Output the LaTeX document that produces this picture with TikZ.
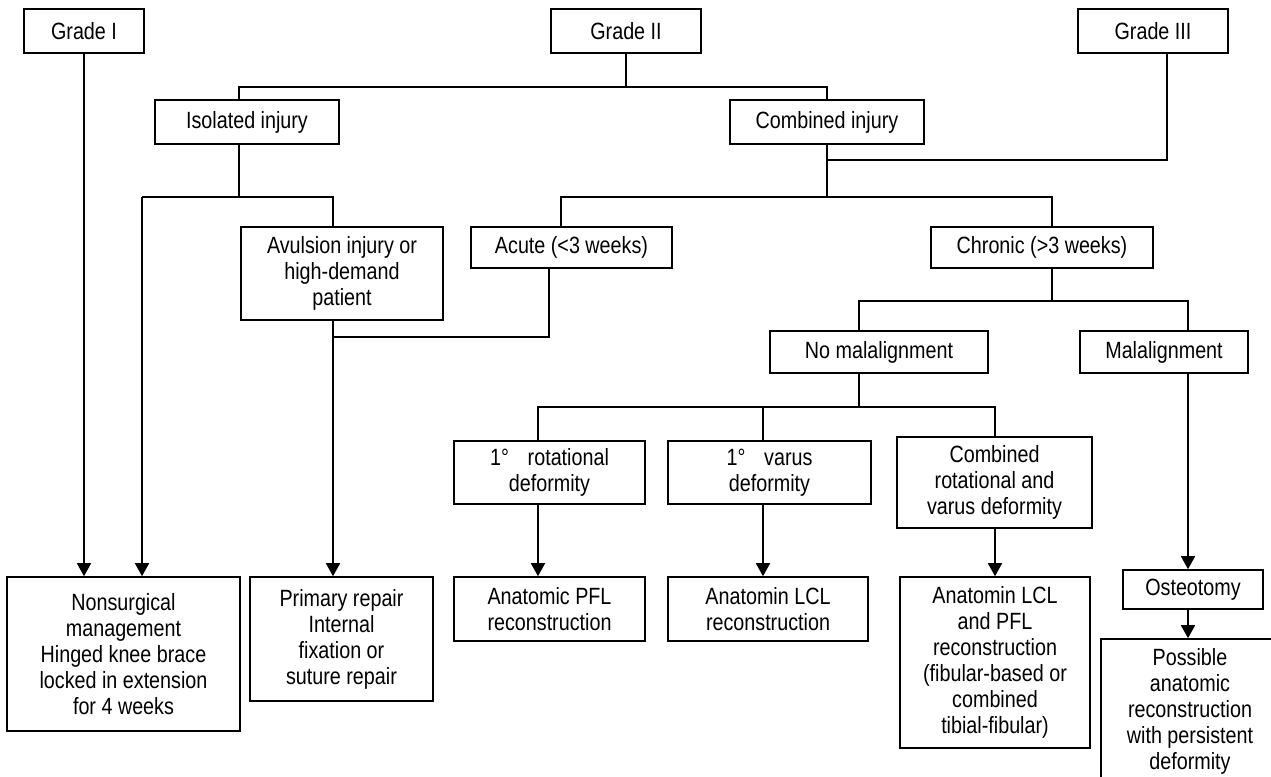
\documentclass[tikz,border=0pt]{standalone}
\usepackage{fontspec}
\setmainfont{Liberation Sans}[FakeStretch=0.84]
\usetikzlibrary{arrows.meta}
\begin{document}
\begin{tikzpicture}[x=1pt,y=-1pt,
  bx/.style={draw,line width=1.6pt,inner sep=0pt,align=center,fill=white,
    font=\fontsize{23.5}{26}\selectfont},
  ln/.style={line width=1.6pt},
  arr/.style={ln,-{Triangle[width=14pt,length=13pt]}}]
\useasboundingbox (0,0) rectangle (1271,776);
\clip (0,0) rectangle (1271,776);
% top row
\node[bx,minimum width=120pt,minimum height=44pt] (g1) at (84,31) {Grade I};
\node[bx,minimum width=150pt,minimum height=44pt] (g2) at (626,31) {Grade II};
\node[bx,minimum width=150pt,minimum height=44pt] (g3) at (1153,31) {Grade III};
% second row
\node[bx,minimum width=184pt,minimum height=44pt] (iso) at (247,122) {Isolated injury};
\node[bx,minimum width=194pt,minimum height=44pt] (comb) at (827,122) {Combined injury};
% third row
\node[bx,minimum width=202pt,minimum height=93pt] (avul) at (342,273.5) {Avulsion injury or\\high-demand\\patient};
\node[bx,minimum width=201pt,minimum height=41pt] (acute) at (571.5,247.5) {Acute (<3 weeks)};
\node[bx,minimum width=222pt,minimum height=41pt] (chron) at (1042,247.5) {Chronic (>3 weeks)};
% fourth row
\node[bx,minimum width=218pt,minimum height=42pt] (nomal) at (879,352) {No malalignment};
\node[bx,minimum width=168pt,minimum height=42pt] (mal) at (1164,352) {Malalignment};
% fifth row
\node[bx,minimum width=191pt,minimum height=63pt] (rot) at (549.5,472.5) {1°\hspace{0.8em}rotational\\deformity};
\node[bx,minimum width=203pt,minimum height=63pt] (var) at (769.5,472.5) {1°\hspace{0.8em}varus\\deformity};
\node[bx,minimum width=195pt,minimum height=91pt] (crv) at (994.5,482.5) {Combined\\rotational and\\varus deformity};
% results
\node[bx,minimum width=233pt,minimum height=154pt] (non) at (123.5,654) {Nonsurgical\\management\\Hinged knee brace\\locked in extension\\for 4 weeks};
\node[bx,minimum width=183pt,minimum height=124pt] (prim) at (341.5,639) {Primary repair\\Internal\\fixation or\\suture repair};
\node[bx,minimum width=191pt,minimum height=64pt] (pfl) at (549.5,609) {Anatomic PFL\\reconstruction};
\node[bx,minimum width=200pt,minimum height=64pt] (lcl) at (768,609) {Anatomin LCL\\reconstruction};
\node[bx,minimum width=190pt,minimum height=171pt] (lclpfl) at (995,662.5) {Anatomin LCL\\and PFL\\reconstruction\\(fibular-based or\\combined\\tibial-fibular)};
\node[bx,minimum width=140pt,minimum height=39pt] (ost) at (1193,589.5) {Osteotomy};
\node[bx,minimum width=178pt,minimum height=145pt] (poss) at (1190,711.5) {Possible\\anatomic\\reconstruction\\with persistent\\deformity};
% junction coordinates
\coordinate (a1) at (239,87);
\coordinate (a2) at (827,87);
\coordinate (b0) at (239,197);
\coordinate (b1) at (142,197);
\coordinate (b2) at (333,197);
\coordinate (c1) at (1167,160);
\coordinate (d1) at (561,197);
\coordinate (d2) at (1052,197);
\coordinate (e1) at (549,337);
\coordinate (f1) at (859,301);
\coordinate (f2) at (1188,301);
\coordinate (h1) at (538,407);
\coordinate (h2) at (763,407);
\coordinate (h3) at (995,407);
% connectors
\draw[arr] (g1.south) -- (g1.south |- non.north);
\draw[ln] (g2.south) -- (g2.south |- a1);
\draw[ln] (iso.north -| a1) -- (a1) -- (a2) -- (comb.north -| a2);
\draw[ln] (iso.south -| b0) -- (b0);
\draw[ln] (avul.north -| b2) -- (b2) -- (b1);
\draw[arr] (b1) -- (b1 |- non.north);
\draw[ln] (g3.south -| c1) -- (c1) -- (c1 -| comb.south);
\draw[ln] (comb.south) -- (comb.south |- d1);
\draw[ln] (acute.north -| d1) -- (d1) -- (d2) -- (chron.north -| d2);
\draw[ln] (acute.south -| e1) -- (e1) -- (e1 -| b2);
\draw[arr] (avul.south -| b2) -- (b2 |- prim.north);
\draw[ln] (chron.south -| d2) -- (f1 -| d2);
\draw[ln] (nomal.north -| f1) -- (f1) -- (f2) -- (mal.north -| f2);
\draw[ln] (nomal.south -| f1) -- (f1 |- h1);
\draw[ln] (rot.north -| h1) -- (h1) -- (h3) -- (crv.north -| h3);
\draw[ln] (var.north -| h2) -- (h2);
\draw[arr] (rot.south -| h1) -- (h1 |- pfl.north);
\draw[arr] (var.south -| h2) -- (h2 |- lcl.north);
\draw[arr] (crv.south -| h3) -- (h3 |- lclpfl.north);
\draw[arr] (mal.south -| f2) -- (f2 |- ost.north);
\draw[arr] (ost.south -| f2) -- (f2 |- poss.north);
\end{tikzpicture}
\end{document}
